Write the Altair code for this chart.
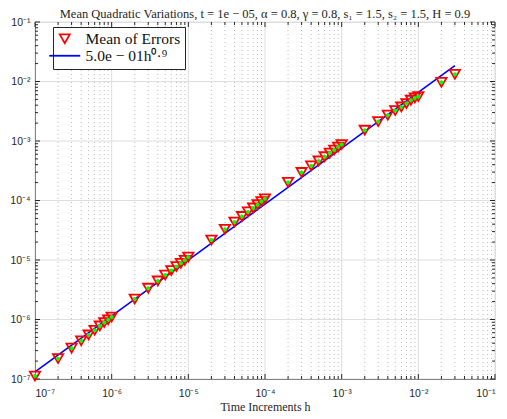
import altair as alt
import pandas as pd

# ---- data ----
H_VALUES = [
    1e-7, 2e-7, 3e-7, 4e-7, 5e-7, 6e-7, 7e-7, 8e-7, 9e-7,
    1e-6, 2e-6, 3e-6, 4e-6, 5e-6, 6e-6, 7e-6, 8e-6, 9e-6,
    1e-5, 2e-5, 3e-5, 4e-5, 5e-5, 6e-5, 7e-5, 8e-5, 9e-5,
    1e-4, 2e-4, 3e-4, 4e-4, 5e-4, 6e-4, 7e-4, 8e-4, 9e-4,
    1e-3, 2e-3, 3e-3, 4e-3, 5e-3, 6e-3, 7e-3, 8e-3, 9e-3,
    1e-2, 2e-2, 3e-2,
]
MEAN_ERRORS = [
    1.12e-7, 2.2e-7, 3.3e-7, 4.4e-7, 5.5e-7, 6.6e-7, 7.8e-7, 8.9e-7, 9.9e-7,
    1.1e-6, 2.21e-6, 3.36e-6, 4.45e-6, 5.58e-6, 6.65e-6, 7.75e-6, 8.8e-6, 9.9e-6,
    1.12e-5, 2.17e-5, 3.29e-5, 4.35e-5, 5.4e-5, 6.45e-5, 7.5e-5, 8.5e-5, 9.6e-5,
    1.07e-4, 2.02e-4, 2.96e-4, 3.82e-4, 4.62e-4, 5.45e-4, 6.25e-4, 7.05e-4, 7.9e-4,
    8.7e-4, 1.52e-3, 2.12e-3, 2.72e-3, 3.25e-3, 3.74e-3, 4.25e-3, 4.85e-3, 5.3e-3,
    5.6e-3, 9.7e-3, 1.32e-2,
]
FIT_C = 0.5
FIT_P = 0.94
FIT_H = [1e-7, 3e-2]

SERIES_POINTS = "Mean of Errors"
SERIES_LINE = "5.0e − 01h⁰·⁹"
TITLE = "Mean Quadratic Variations, t = 1e − 05, α = 0.8, γ = 0.8, s₁ = 1.5, s₂ = 1.5, H = 0.9"
X_TITLE = "Time Increments h"

DECADES = [1e-7, 1e-6, 1e-5, 1e-4, 1e-3, 1e-2, 1e-1]
MULTIPLIERS = [2, 3, 4, 5, 6, 7, 8, 9]
MINOR = [m * d for d in DECADES[:-1] for m in MULTIPLIERS]

W, H = 460, 357
DOMAIN = [1e-7, 1e-1]
SUP = "['⁰','¹','²','³','⁴','⁵','⁶','⁷','⁸','⁹']"
LABEL_EXPR = "'10⁻' + " + SUP + "[round(-log(datum.value)/LN10)]"

pts = pd.DataFrame({"h": H_VALUES, "err": MEAN_ERRORS, "series": SERIES_POINTS})
fit = pd.DataFrame({"h": FIT_H, "err": [FIT_C * v ** FIT_P for v in FIT_H], "series": SERIES_LINE})
dec = pd.DataFrame({"v": DECADES})
minor = pd.DataFrame({"v": MINOR})

xs = alt.Scale(type="log", domain=DOMAIN, nice=False)
ys = alt.Scale(type="log", domain=DOMAIN, nice=False)

color_scale = alt.Scale(domain=[SERIES_POINTS, SERIES_LINE], range=["#ff0000", "#0000ff"])
shape_scale = alt.Scale(domain=[SERIES_POINTS, SERIES_LINE],
                        range=["triangle-down", "M-3.1,0L3.1,0"])

xaxis = alt.Axis(values=DECADES, labelExpr=LABEL_EXPR, grid=False, ticks=False,
                 domainColor="#262626", labelFont="Liberation Sans", labelFontSize=10.5,
                 labelColor="#262626", labelPadding=9, title=X_TITLE,
                 titleFont="Liberation Serif", titleFontSize=12, titleFontWeight="normal",
                 titleColor="#262626", titlePadding=3)
yaxis = alt.Axis(values=DECADES, labelExpr=LABEL_EXPR, grid=False, ticks=False,
                 domainColor="#262626", labelFont="Liberation Sans", labelFontSize=10.5,
                 labelColor="#262626", labelPadding=5, title=None)


def X(field):
    return alt.X(field, scale=xs, axis=xaxis)


def Y(field):
    return alt.Y(field, scale=ys, axis=yaxis)


gx_major = alt.Chart(dec).mark_rule(color="#dedede", strokeWidth=1).encode(x=X("v:Q"))
gx_minor = alt.Chart(minor).mark_rule(color="#bdbdbd", strokeWidth=1, strokeDash=[1, 3]).encode(x=X("v:Q"))
gy_major = alt.Chart(dec).mark_rule(color="#dedede", strokeWidth=1).encode(y=Y("v:Q"))


def xticks(df, length):
    b = alt.Chart(df).mark_rule(color="#262626").encode(
        x=X("v:Q"), y=alt.value(H), y2=alt.value(H - length))
    t = alt.Chart(df).mark_rule(color="#262626").encode(
        x=X("v:Q"), y=alt.value(0), y2=alt.value(length))
    return [b, t]


def yticks(df, length):
    l = alt.Chart(df).mark_rule(color="#262626").encode(
        y=Y("v:Q"), x=alt.value(0), x2=alt.value(length))
    r = alt.Chart(df).mark_rule(color="#262626").encode(
        y=Y("v:Q"), x=alt.value(W), x2=alt.value(W - length))
    return [l, r]


legend = alt.Legend(title=None, orient="none", legendX=18, legendY=5, padding=4,
                    strokeColor="#262626", fillColor="white", cornerRadius=0,
                    labelFont="Liberation Serif", labelFontSize=15.5, labelColor="#111111",
                    labelOffset=13, symbolSize=100, symbolStrokeWidth=1.8,
                    rowPadding=0, symbolFillColor="transparent")

line = alt.Chart(fit).mark_line(strokeWidth=1.6).encode(
    x=X("h:Q"), y=Y("err:Q"),
    color=alt.Color("series:N", scale=color_scale, legend=legend),
)
tri = alt.Chart(pts).mark_point(filled=False, size=105, strokeWidth=1.8, opacity=1).encode(
    x=X("h:Q"), y=Y("err:Q"),
    color=alt.Color("series:N", scale=color_scale, legend=legend),
    shape=alt.Shape("series:N", scale=shape_scale, legend=legend),
)
dots = alt.Chart(pts).mark_point(filled=True, shape="circle", size=16, color="#00ff00", opacity=1).encode(
    x=X("h:Q"), y=Y("err:Q"),
)

layers = [gx_major, gx_minor, gy_major]
layers += xticks(dec, 5) + xticks(minor, 3) + yticks(dec, 5) + yticks(minor, 3)
layers += [line, tri, dots]

chart = alt.layer(*layers).properties(
    width=W, height=H,
    title=alt.TitleParams(TITLE, font="Liberation Serif", fontSize=12.5, fontWeight="normal",
                          color="#262626", offset=0, anchor="middle", dy=3),
    autosize=alt.AutoSizeParams(type="none"),
    padding={"left": 27, "top": 14, "right": 4, "bottom": 40},
).configure_view(stroke="#262626", strokeWidth=1).configure(background="white")

chart.save("out.html", embed_options={"renderer": "svg", "actions": False})
